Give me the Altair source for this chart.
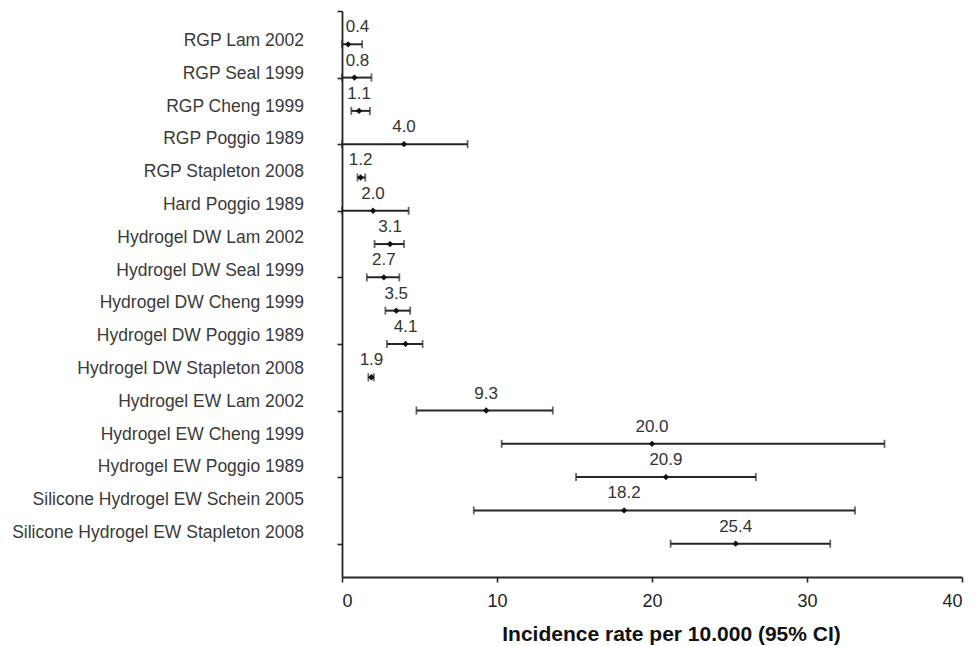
import altair as alt
import pandas as pd

# ---- data ----
studies = [
    "RGP Lam 2002",
    "RGP Seal 1999",
    "RGP Cheng 1999",
    "RGP Poggio 1989",
    "RGP Stapleton 2008",
    "Hard Poggio 1989",
    "Hydrogel DW Lam 2002",
    "Hydrogel DW Seal 1999",
    "Hydrogel DW Cheng 1999",
    "Hydrogel DW Poggio 1989",
    "Hydrogel DW Stapleton 2008",
    "Hydrogel EW Lam 2002",
    "Hydrogel EW Cheng 1999",
    "Hydrogel EW Poggio 1989",
    "Silicone Hydrogel EW Schein 2005",
    "Silicone Hydrogel EW Stapleton 2008",
]
estimate = [0.4, 0.8, 1.1, 4.0, 1.2, 2.0, 3.1, 2.7, 3.5, 4.1, 1.9, 9.3, 20.0, 20.9, 18.2, 25.4]
ci_low = [0.0, 0.0, 0.6, 0.0, 1.0, 0.0, 2.1, 1.6, 2.8, 2.9, 1.7, 4.8, 10.3, 15.1, 8.5, 21.2]
ci_high = [1.3, 1.9, 1.8, 8.1, 1.5, 4.3, 4.0, 3.7, 4.4, 5.2, 2.05, 13.6, 35.0, 26.7, 33.1, 31.5]
x_ticks = [0, 10, 20, 30, 40]
x_title = "Incidence rate per 10.000 (95% CI)"

df = pd.DataFrame({
    "study": studies,
    "row": list(range(1, len(studies) + 1)),
    "est": estimate,
    "lo": ci_low,
    "hi": ci_high,
})
df["label"] = df["est"].map(lambda v: f"{v:.1f}")

FONT = "Liberation Sans"
INK = "#262626"

x_scale = alt.Scale(domain=[0, 40], nice=False, zero=True)
y_scale = alt.Scale(domain=[0, len(studies) + 1], reverse=True, nice=False, zero=True)

x_axis = alt.Axis(
    values=x_ticks, title=x_title, grid=False,
    labelFont=FONT, labelFontSize=18, labelColor="#222",
    labelBaseline="alphabetic", labelPadding=24,
    titleFont=FONT, titleFontSize=21, titleFontWeight="bold", titleColor="#111",
    titleX=329, titleY=63, titleBaseline="alphabetic", titleAnchor="middle",
    domainColor=INK, domainWidth=1.8, tickColor=INK, tickWidth=1.6, tickSize=5,
)
y_axis = alt.Axis(
    values=list(range(0, len(studies) + 2)), labels=False, title=None, grid=False,
    domainColor=INK, domainWidth=1.8, tickColor=INK, tickWidth=1.6, tickSize=5,
)

base = alt.Chart(df)

rules = base.mark_rule(color=INK, strokeWidth=2).encode(
    x=alt.X("lo:Q", scale=x_scale, axis=x_axis),
    x2="hi:Q",
    y=alt.Y("row:Q", scale=y_scale, axis=y_axis),
)
cap_lo = base.mark_tick(color=INK, orient="vertical", size=8, thickness=1.8).encode(
    x=alt.X("lo:Q", scale=x_scale),
    y=alt.Y("row:Q", scale=y_scale),
)
cap_hi = base.mark_tick(color=INK, orient="vertical", size=8, thickness=1.8).encode(
    x=alt.X("hi:Q", scale=x_scale),
    y=alt.Y("row:Q", scale=y_scale),
)
points = base.mark_point(shape="diamond", filled=True, color="#111", size=40, opacity=1).encode(
    x=alt.X("est:Q", scale=x_scale),
    y=alt.Y("row:Q", scale=y_scale),
)
# value labels are kept clear of the y axis, as in the original
values = base.transform_calculate(
    label_x="max(datum.est, 1.0)"
).mark_text(font=FONT, fontSize=17, color="#333", baseline="alphabetic",
            align="center", dy=-12).encode(
    x=alt.X("label_x:Q", scale=x_scale),
    y=alt.Y("row:Q", scale=y_scale),
    text="label:N",
)

main = alt.layer(rules, cap_lo, cap_hi, points, values)

names = base.mark_text(font=FONT, fontSize=17.5, color="#3a3a3a", align="right",
                       baseline="middle").encode(
    x=alt.value(-38),
    y=alt.Y("row:Q", scale=alt.Scale(domain=[1, len(studies)], range=[30, 522]), axis=None),
    text="study:N",
)

chart = alt.layer(main, names).resolve_scale(y="independent").properties(
    width=620,
    height=566,
    background="white",
    autosize=alt.AutoSizeParams(type="none"),
    padding={"left": 342, "top": 11, "right": 11, "bottom": 69},
).configure_view(stroke=None)

chart.save("out.html", embed_options={"renderer": "svg", "actions": False})
